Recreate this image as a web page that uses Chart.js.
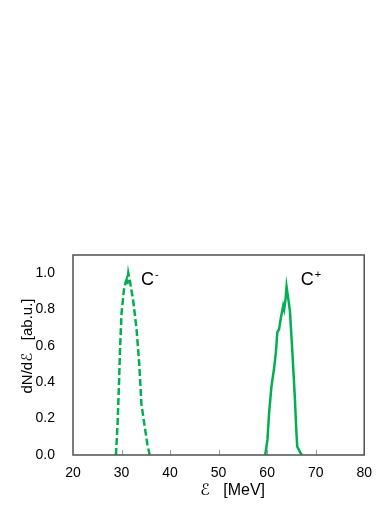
<!DOCTYPE html>
<html>
<head>
<meta charset="utf-8">
<script src="https://cdn.jsdelivr.net/npm/chart.js@4"></script>
<style>
  html, body { margin: 0; padding: 0; background: #fff; }
  #wrap { position: relative; width: 382px; height: 509px; }
</style>
</head>
<body>
<div id="wrap"><canvas id="c"></canvas></div>
<script>
// ---- data ----
const cMinusEnergy = [28.85, 29.2, 29.5, 29.7, 30.0, 30.5, 30.85, 31.1, 31.2, 31.4, 31.7, 32.4, 33.1, 33.65, 34.1, 34.7, 35.35, 35.8];
const cMinusValue  = [0.0, 0.185, 0.41, 0.59, 0.78, 0.91, 0.95, 0.97, 0.94, 1.0, 0.96, 0.85, 0.69, 0.5, 0.28, 0.17, 0.055, 0.0];
const cPlusEnergy  = [59.6, 60.06, 60.4, 60.9, 61.4, 61.8, 62.1, 62.45, 62.8, 63.3, 63.5, 63.8, 64.0, 64.35, 64.7, 65.2, 65.7, 66.0, 66.2, 66.9, 67.2];
const cPlusValue   = [0.0, 0.083, 0.23, 0.38, 0.47, 0.565, 0.676, 0.69, 0.75, 0.82, 0.80, 0.86, 0.926, 0.86, 0.79, 0.565, 0.32, 0.14, 0.046, 0.01, 0.0];
const xTicks = [20, 30, 40, 50, 60, 70, 80];
const yTicks = [0.0, 0.2, 0.4, 0.6, 0.8, 1.0];
const seriesLabels = ['C', 'C'];
const seriesSup = ['-', '+'];
const labelAnchors = [[34.0, 0.965], [66.9, 0.965]];
const xTitle = 'ℰ   [MeV]';
const yTitle = 'dN/dℰ   [ab.u.]';

const green = '#00B050';
const toPts = (xs, ys) => xs.map((x, i) => ({ x: x, y: ys[i] }));

const framePlugin = {
  id: 'frame',
  afterDraw(chart) {
    const { ctx, chartArea: a, scales } = chart;
    ctx.save();
    // inward x ticks
    ctx.strokeStyle = '#9a9a9a';
    ctx.lineWidth = 1;
    xTicks.forEach(v => {
      if (v === xTicks[0] || v === xTicks[xTicks.length - 1]) return;
      const px = Math.round(scales.x.getPixelForValue(v)) + 0.5;
      ctx.beginPath();
      ctx.moveTo(px, a.bottom);
      ctx.lineTo(px, a.bottom - 5);
      ctx.stroke();
    });
    // frame
    ctx.strokeStyle = '#505050';
    ctx.lineWidth = 1.5;
    ctx.strokeRect(a.left, a.top, a.right - a.left, a.bottom - a.top);
    // series labels
    ctx.fillStyle = '#000';
    ctx.textBaseline = 'middle';
    ctx.textAlign = 'left';
    labelAnchors.forEach((p, i) => {
      const px = scales.x.getPixelForValue(p[0]);
      const py = scales.y.getPixelForValue(p[1]);
      ctx.font = '18px "Liberation Sans", Arial, sans-serif';
      ctx.fillText(seriesLabels[i], px, py);
      const w = ctx.measureText(seriesLabels[i]).width;
      ctx.font = '11px "Liberation Sans", Arial, sans-serif';
      ctx.fillText(seriesSup[i], px + w + 1, py - 5);
    });
    // axis titles
    ctx.font = '16px "Liberation Sans", "DejaVu Sans", sans-serif';
    ctx.textAlign = 'center';
    ctx.fillText(xTitle, (a.left + a.right) / 2 + 14, a.bottom + 36);
    ctx.save();
    ctx.translate(a.left - 45, (a.top + a.bottom) / 2 - 9);
    ctx.rotate(-Math.PI / 2);
    ctx.font = '15px "Liberation Sans", "DejaVu Sans", sans-serif';
    ctx.fillText(yTitle, 0, 0);
    ctx.restore();
    ctx.restore();
  }
};

new Chart(document.getElementById('c'), {
  type: 'scatter',
  data: {
    datasets: [
      {
        label: 'C-',
        data: toPts(cMinusEnergy, cMinusValue),
        showLine: true,
        borderColor: green,
        borderWidth: 2.5,
        borderDash: [7, 3],
        pointRadius: 0,
        tension: 0,
        fill: false
      },
      {
        label: 'C+',
        data: toPts(cPlusEnergy, cPlusValue),
        showLine: true,
        borderColor: green,
        borderWidth: 2.5,
        pointRadius: 0,
        tension: 0,
        fill: false
      }
    ]
  },
  options: {
    responsive: true,
    maintainAspectRatio: false,
    animation: false,
    layout: { padding: { top: 255, right: 16, left: 0, bottom: 0 } },
    plugins: { legend: { display: false }, tooltip: { enabled: false } },
    scales: {
      x: {
        type: 'linear',
        min: 20, max: 80,
        afterFit(s) { s.height = 54; },
        afterBuildTicks(s) { s.ticks = xTicks.map(v => ({ value: v })); },
        grid: { display: false, drawTicks: false },
        border: { display: false },
        ticks: {
          padding: 10,
          color: '#000',
          font: { family: '"Liberation Sans", Arial, sans-serif', size: 14 },
          callback: v => String(v)
        }
      },
      y: {
        type: 'linear',
        min: 0, max: 1.1,
        afterFit(s) { s.width = 73; },
        afterBuildTicks(s) { s.ticks = yTicks.map(v => ({ value: v })); },
        grid: { display: false, drawTicks: false },
        border: { display: false },
        ticks: {
          padding: 18,
          color: '#000',
          font: { family: '"Liberation Sans", Arial, sans-serif', size: 14 },
          callback: v => v.toFixed(1)
        }
      }
    }
  },
  plugins: [framePlugin]
});
</script>
</body>
</html>
